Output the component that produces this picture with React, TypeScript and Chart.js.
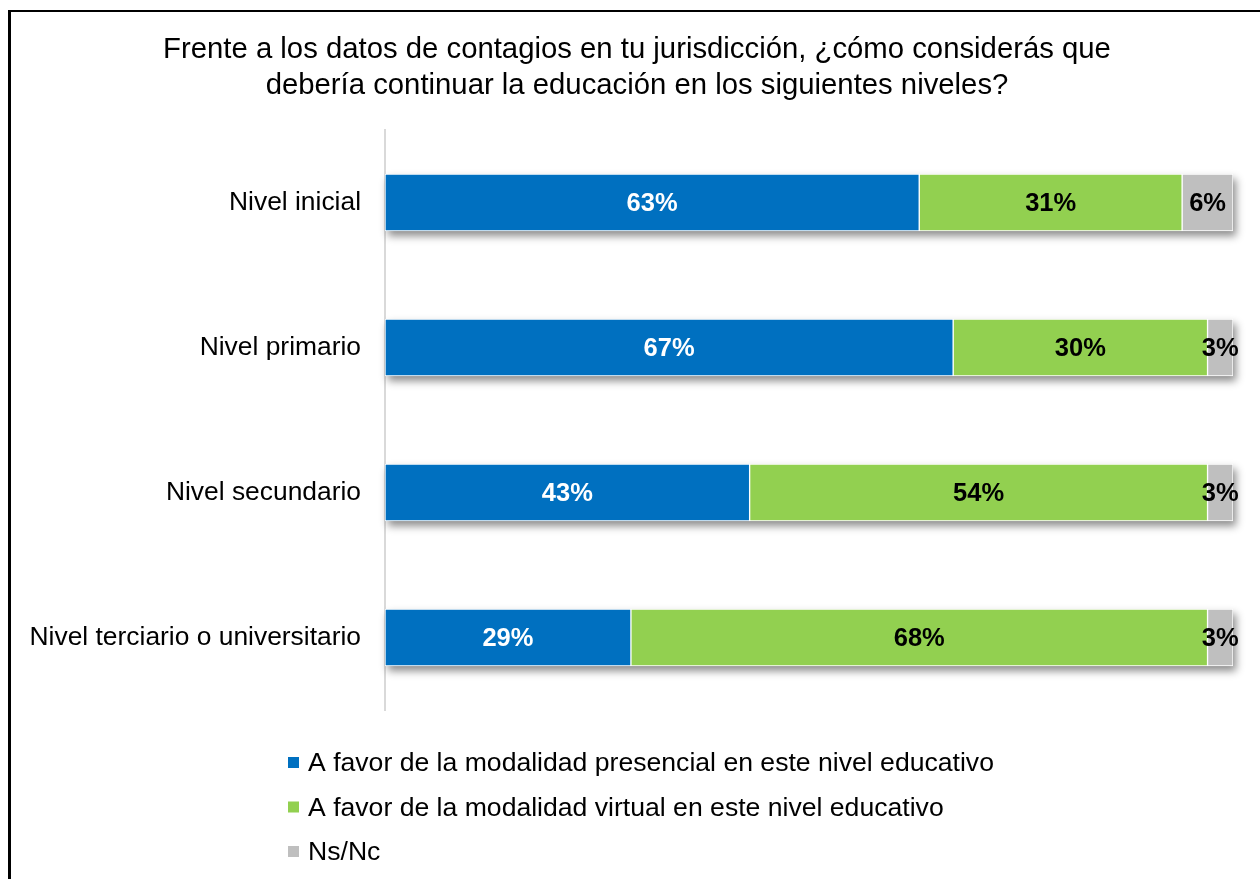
import React, { useEffect, useRef } from 'react';
import { Chart, registerables } from 'chart.js';

Chart.register(...registerables);

const categories = [
  'Nivel inicial',
  'Nivel primario',
  'Nivel secundario',
  'Nivel terciario o universitario',
];
const presencial = [63, 67, 43, 29];
const virtual = [31, 30, 54, 68];
const nsnc = [6, 3, 3, 3];
const seriesLabels = [
  'A favor de la modalidad presencial en este nivel educativo',
  'A favor de la modalidad virtual en este nivel educativo',
  'Ns/Nc',
];
const titleLines = [
  'Frente a los datos de contagios en tu jurisdicción, ¿cómo considerás que',
  'debería continuar la educación en los siguientes niveles?',
];
const seriesColors = ['#0070C0', '#92D050', '#BFBFBF'];
const valueLabelColors = ['#FFFFFF', '#000000', '#000000'];

const FONT = '"Liberation Sans", Arial, sans-serif';

const shadowPlugin = {
  id: 'barShadow',
  afterLayout(chart: any) {
    // let the long category labels extend past the axis box without clipping
    if (chart.scales.y) chart.scales.y.left = 0;
  },
  beforeDatasetsDraw(chart: any) {
    const ctx = chart.ctx;
    const n = chart.data.datasets.length;
    const first = chart.getDatasetMeta(0);
    const last = chart.getDatasetMeta(n - 1);
    ctx.save();
    ctx.shadowColor = 'rgba(0,0,0,0.45)';
    ctx.shadowBlur = 8;
    ctx.shadowOffsetX = 3;
    ctx.shadowOffsetY = 5;
    ctx.fillStyle = '#ffffff';
    first.data.forEach((el: any, i: number) => {
      const l = el.base;
      const r = last.data[i].x;
      const h = el.height;
      ctx.fillRect(l, el.y - h / 2, r - l, h);
    });
    ctx.restore();
  },
};

const valueLabelPlugin = {
  id: 'valueLabels',
  afterDatasetsDraw(chart: any) {
    const ctx = chart.ctx;
    ctx.save();
    ctx.font = `bold 25.5px ${FONT}`;
    ctx.textAlign = 'center';
    ctx.textBaseline = 'middle';
    chart.data.datasets.forEach((ds: any, i: number) => {
      const meta = chart.getDatasetMeta(i);
      ctx.fillStyle = valueLabelColors[i];
      meta.data.forEach((el: any, j: number) => {
        const cx = (el.x + el.base) / 2;
        ctx.fillText(`${ds.data[j]}%`, cx, el.y + 1.5);
      });
    });
    ctx.restore();
  },
};

const customLegendPlugin = {
  id: 'customLegend',
  afterDraw(chart: any) {
    const ctx = chart.ctx;
    ctx.save();
    ctx.font = `26.6px ${FONT}`;
    ctx.textAlign = 'left';
    ctx.textBaseline = 'middle';
    const boxX = 288;
    const textX = 308;
    const top = 762;
    const step = 44.5;
    chart.data.datasets.forEach((ds: any, i: number) => {
      const y = top + i * step;
      ctx.fillStyle = ds.backgroundColor;
      ctx.fillRect(boxX, y - 5, 11, 11);
      ctx.fillStyle = '#000000';
      ctx.fillText(ds.label, textX, y + 2);
    });
    ctx.restore();
  },
};

export default function App() {
  const canvasRef = useRef<HTMLCanvasElement | null>(null);

  useEffect(() => {
    const canvas = canvasRef.current;
    if (!canvas) return;
    const values = [presencial, virtual, nsnc];
    const chart = new Chart(canvas, {
      type: 'bar',
      data: {
        labels: categories,
        datasets: values.map((v, i) => ({
          label: seriesLabels[i],
          data: v,
          backgroundColor: seriesColors[i],
          borderColor: '#FFFFFF',
          borderWidth: 1,
          borderSkipped: false,
          barThickness: 57,
        })),
      },
      options: {
        indexAxis: 'y',
        responsive: false,
        animation: false,
        devicePixelRatio: 1,
        layout: { padding: { left: 41, right: 27, top: 0, bottom: 169 } },
        plugins: {
          legend: { display: false },
          tooltip: { enabled: false },
          title: {
            display: true,
            text: titleLines,
            color: '#000000',
            font: { family: FONT, size: 29.3, weight: 'normal', lineHeight: '36px' },
            padding: { top: 32, bottom: 26 },
          },
        },
        scales: {
          x: { stacked: true, min: 0, max: 100, display: false },
          y: {
            stacked: true,
            grid: { display: false, drawTicks: false },
            border: { display: true, color: '#D9D9D9', width: 2 },
            ticks: { color: '#000000', font: { family: FONT, size: 26.4 }, padding: 24 },
            afterFit: (scale: any) => {
              scale.width = 344;
            },
          },
        },
      },
      plugins: [shadowPlugin, valueLabelPlugin, customLegendPlugin],
    } as any);
    return () => chart.destroy();
  }, []);

  return (
    <>
      <canvas
        ref={canvasRef}
        width={1260}
        height={879}
        style={{ position: 'absolute', left: 0, top: 0, width: 1260, height: 879 }}
      />
      <div
        style={{
          position: 'absolute',
          left: 8,
          top: 10,
          width: 1252,
          height: 869,
          borderLeft: '3px solid #000',
          borderTop: '2px solid #000',
          boxSizing: 'border-box',
          pointerEvents: 'none',
        }}
      />
    </>
  );
}
